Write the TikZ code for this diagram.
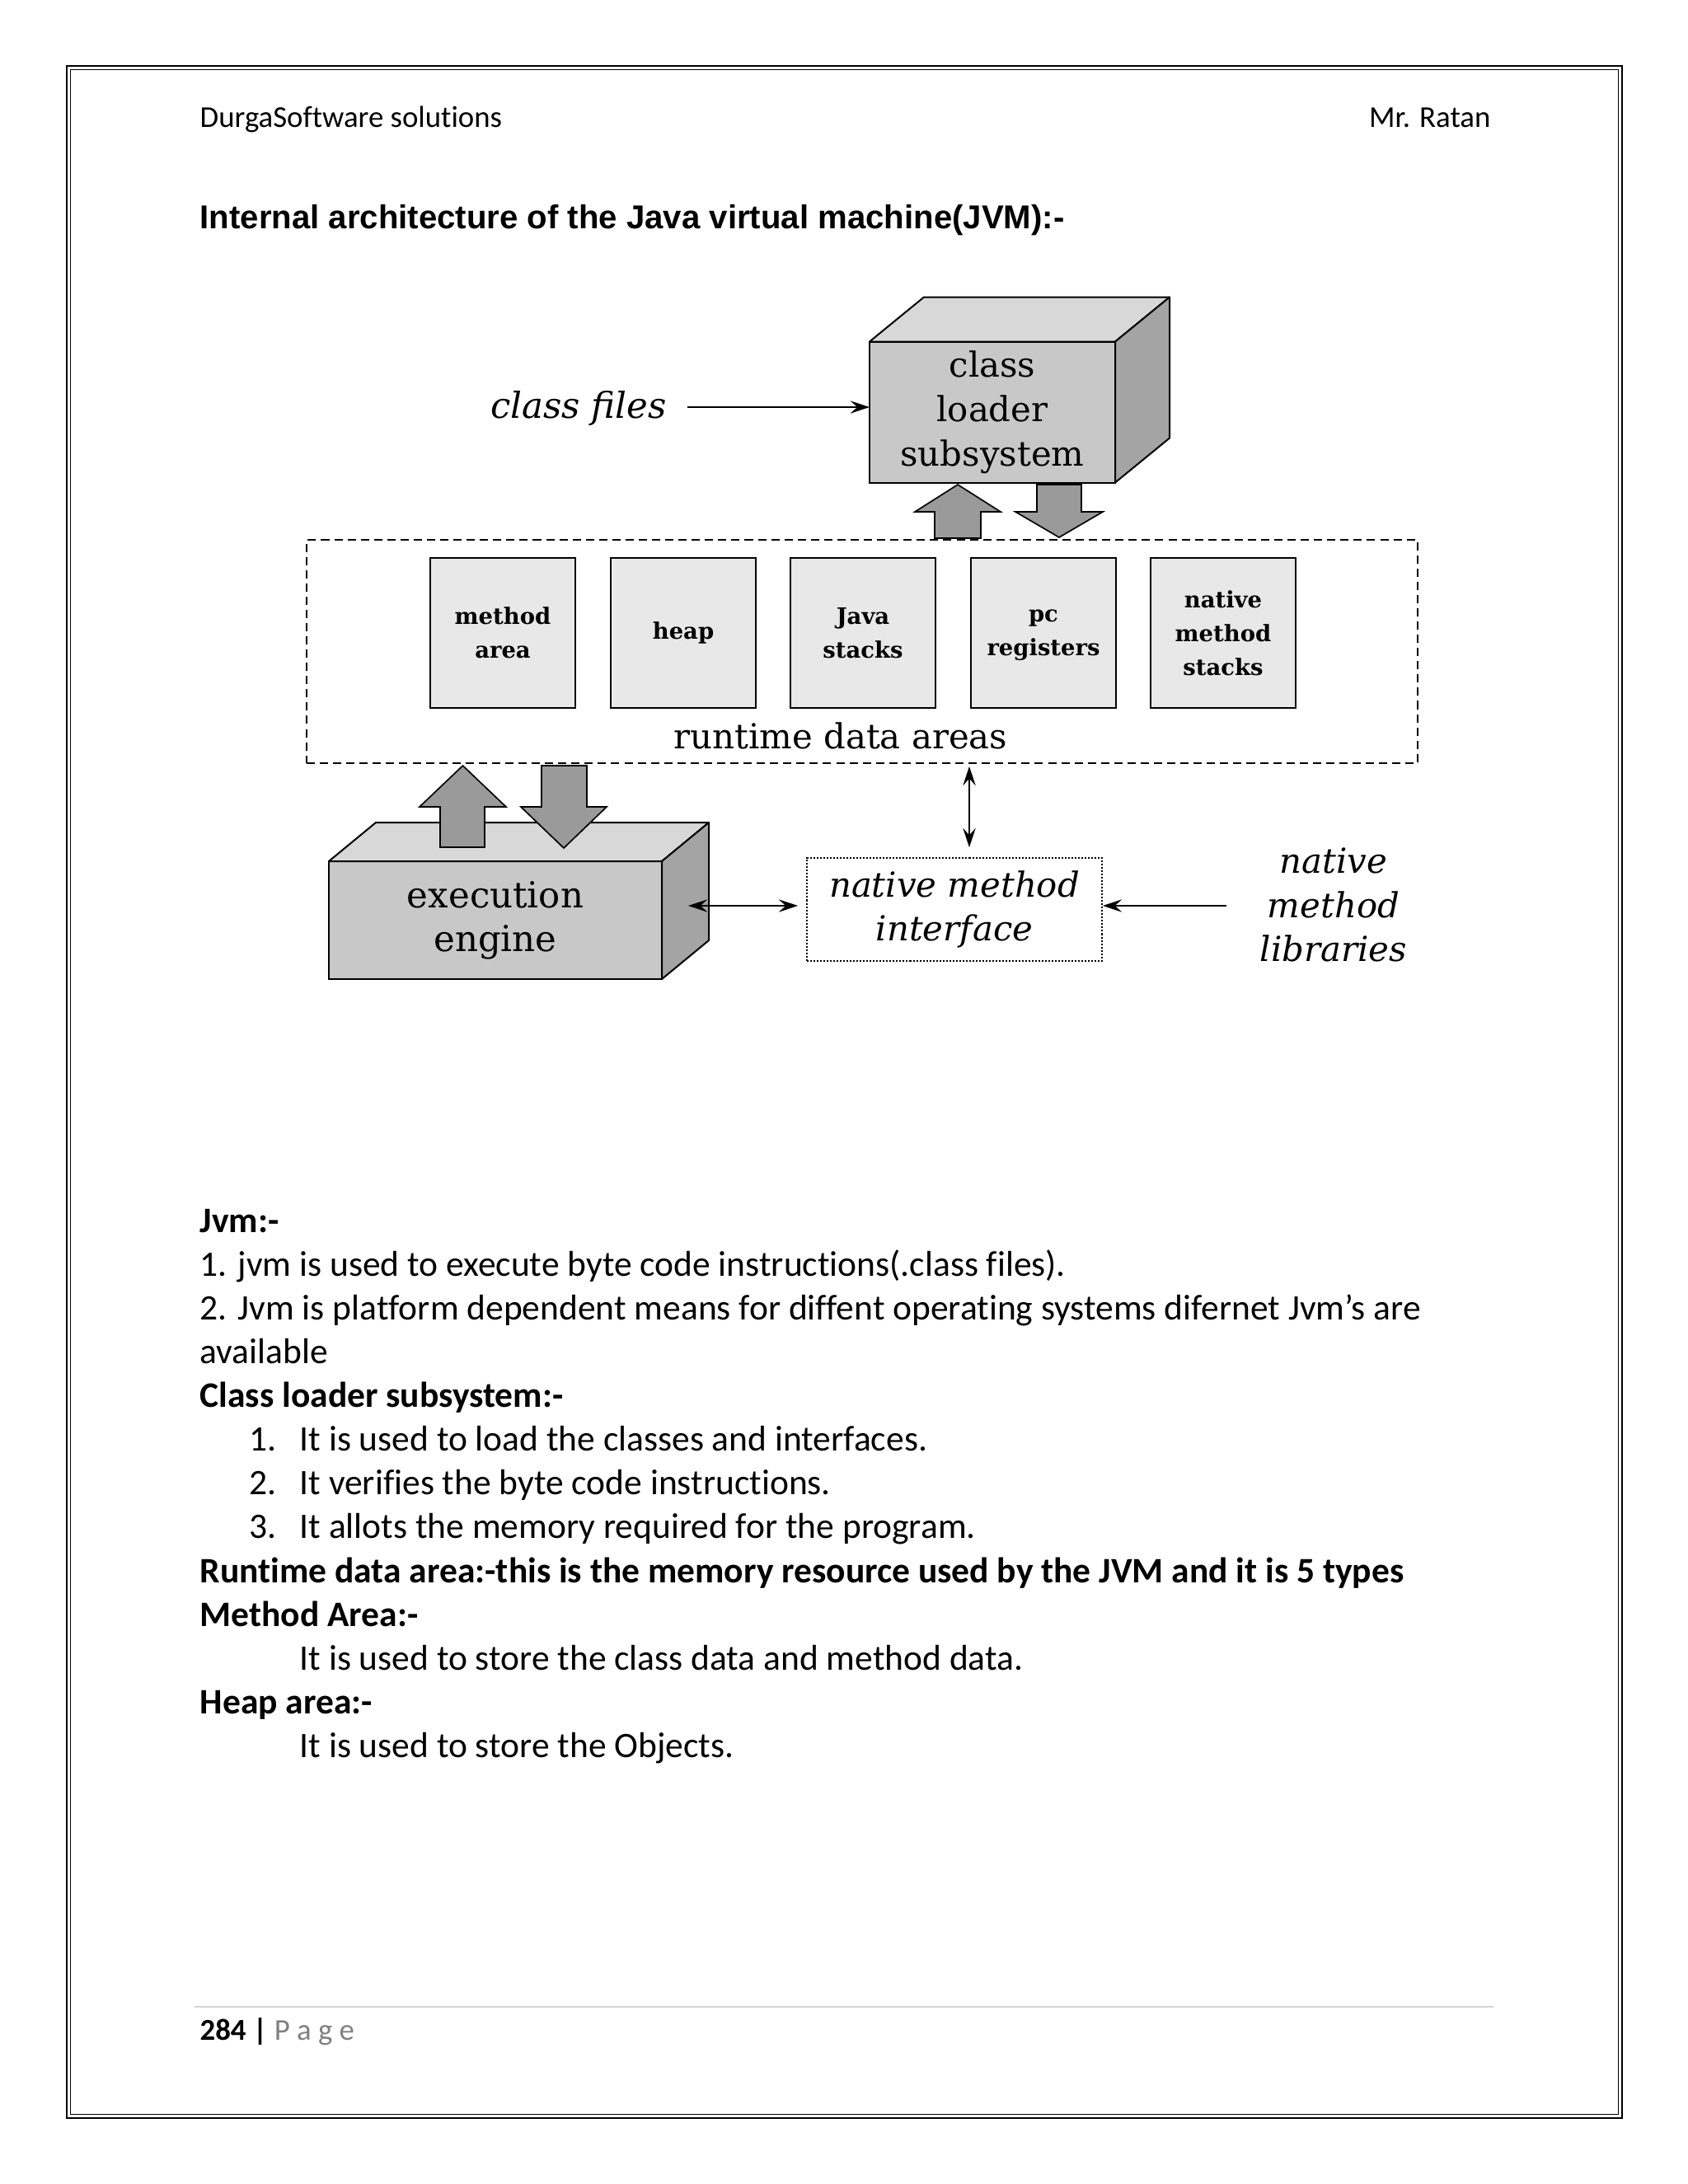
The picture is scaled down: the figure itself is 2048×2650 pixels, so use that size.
\documentclass[tikz,border=0pt]{standalone}
\usepackage{fontspec}
\usetikzlibrary{arrows.meta,calc}
\newfontfamily\calibri[Ligatures=NoCommon]{Carlito}
\newfontfamily\arialf{Liberation Sans}
\newfontfamily\schoolf{DejaVu Serif}
\definecolor{facefront}{HTML}{C8C8C8}
\definecolor{facetop}{HTML}{D8D8D8}
\definecolor{faceside}{HTML}{A4A4A4}
\definecolor{blockgray}{HTML}{9A9A9A}
\definecolor{areafill}{HTML}{E8E8E8}
\definecolor{pagegray}{HTML}{808080}
\definecolor{footline}{HTML}{D4D4D4}
\def\U{0.29883pt}
\begin{document}
\begin{tikzpicture}[x=0.29883pt,y=-0.29883pt,
  tip/.tip={Stealth[length=7pt,width=4.6pt,inset=2.6pt]},
  arr/.style={line width=0.5pt,-tip},
  dblarr/.style={line width=0.5pt,tip-tip},
  front/.style={draw,line width=0.6pt,fill=facefront,inner sep=0pt,outer sep=0pt,align=center,
    font=\schoolf\fontsize{12.5}{16.1}\selectfont},
  topface/.style={draw,line width=0.6pt,fill=facetop,line join=round},
  sideface/.style={draw,line width=0.6pt,fill=faceside,line join=round},
  block/.style={draw,line width=0.5pt,fill=blockgray,line join=miter},
  area/.style={draw,line width=0.6pt,fill=areafill,minimum width=176*\U,minimum height=182*\U,
    inner sep=0pt,align=center,font=\schoolf\bfseries\fontsize{8.2}{12.3}\selectfont},
  serif/.style={font=\schoolf\fontsize{12.5}{16}\selectfont,align=center,inner sep=0pt},
  serifit/.style={font=\schoolf\itshape\fontsize{12.5}{16}\selectfont,align=center,inner sep=0pt},
  body/.style={anchor=base west,inner sep=0pt,font=\calibri\fontsize{13}{15.8}\selectfont},
  bodyb/.style={body,font=\calibri\bfseries\fontsize{13}{15.8}\selectfont},
  hdr/.style={inner sep=0pt,font=\calibri\fontsize{11}{13}\selectfont},
]
\useasboundingbox (0,0) rectangle (2048,2650);
\fill[white] (0,0) rectangle (2048,2650);

% page frame
\draw[line width=0.6pt] (81,80) rectangle (1968,2570);
\draw[line width=0.4pt] (85.5,84.5) rectangle (1963.5,2565.5);

% header
\node[hdr,anchor=base west] (hl) at (242,154) {DurgaSoftware solutions};
\node[hdr,anchor=base east] (hr) at (1809,154) {Mr. Ratan};
\node[anchor=base west,inner sep=0pt,font=\arialf\bfseries\fontsize{12}{14}\selectfont] (title) at (242,277)
  {Internal architecture of the Java virtual machine(JVM):-};

% runtime data areas
\node[draw,line width=0.5pt,dash pattern=on 3pt off 1.8pt,minimum width=1348*\U,minimum height=271*\U,inner sep=0pt] (rda) at (1046,790.5) {};
\node[serif] (rdal) at (1020,893) {runtime data areas};
\node[area] (ma) at (610,768) {method\\area};
\node[area] (hp) at (829,768) {heap};
\node[area] (js) at (1047,768) {Java\\stacks};
\node[area] (pc) at (1266,768) {\vphantom{h}pc\\registers};
\node[area] (nms) at (1484,768) {native\\method\\stacks};

% class loader cube
\node[front,minimum width=298*\U,minimum height=171*\U] (cl) at (1204,500) {class\\loader\\subsystem};
\draw[topface] (cl.north west) -- ++(66,-54) -- ++(298,0) -- (cl.north east) -- cycle;
\draw[sideface] (cl.north east) -- ++(66,-54) -- ++(0,171) -- (cl.south east) -- cycle;

% execution engine cube
\node[front,minimum width=404*\U,minimum height=143*\U,font=\schoolf\fontsize{13}{15.9}\selectfont] (ee) at (601,1116.5) {execution\\engine};
\draw[topface] (ee.north west) -- ++(57,-47) -- ++(404,0) -- (ee.north east) -- cycle;
\draw[sideface] (ee.north east) -- ++(57,-47) -- ++(0,143) -- (ee.south east) -- cycle;

% block arrows between class loader and runtime data areas
\draw[block] (1134,653) -- (1134,621) -- (1110,621) -- (1162,588) -- (1214,621) -- (1190,621) -- (1190,653) -- cycle;
\draw[block] (1258,588) -- (1258,621) -- (1232,621) -- (1285,652) -- (1338,621) -- (1312,621) -- (1312,588) -- cycle;
% block arrows between runtime data areas and execution engine
\draw[block] (534,1028) -- (534,979) -- (509,979) -- (561.5,929) -- (614,979) -- (588,979) -- (588,1028) -- cycle;
\draw[block] (657,929) -- (657,979) -- (632,979) -- (684,1029) -- (736,979) -- (712,979) -- (712,929) -- cycle;

% native method interface
\node[draw,line width=0.5pt,dash pattern=on 0.6pt off 0.6pt,minimum width=358*\U,minimum height=125*\U,serifit] (nmi) at (1158,1103.5) {native method\\interface};
\node[serifit] (lib) at (1618,1098) {native\\method\\libraries};
\node[serifit,font=\schoolf\itshape\fontsize{13}{16}\selectfont] (cf) at (702,495) {class files};

% connectors
\coordinate (cfend) at (834,494);
\draw[arr] (cfend) -- (cfend -| cl.west);
\coordinate (vx) at (1176,0);
\draw[dblarr] ($(vx |- rda.south)+(0,3)$) -- ($(vx |- nmi.north)+(0,-12)$);
\coordinate (eex) at (835,1099);
\draw[dblarr] (eex) -- ($(eex -| nmi.west)+(-10,0)$);
\coordinate (libend) at (1488,1099);
\draw[arr] (libend) -- (libend -| nmi.east);

% body text
\node[bodyb] (b1) at (242,1495) {Jvm:-};
\node[body] (b2) at (242,1548) {1. jvm is used to execute byte code instructions(.class files).};
\node[body] (b3) at (242,1601) {2. Jvm is platform dependent means for diffent operating systems difernet Jvm’s are};
\node[body] (b4) at (242,1654) {available};
\node[bodyb] (b5) at (242,1707) {Class loader subsystem:-};
\node[body] (n1) at (302,1760) {1.};
\node[body] (b6) at (363,1760) {It is used to load the classes and interfaces.};
\node[body] (n2) at (302,1813) {2.};
\node[body] (b7) at (363,1813) {It verifies the byte code instructions.};
\node[body] (n3) at (302,1866) {3.};
\node[body] (b8) at (363,1866) {It allots the memory required for the program.};
\node[bodyb] (b9) at (242,1920) {Runtime data area:-this is the memory resource used by the JVM and it is 5 types};
\node[bodyb] (b10) at (242,1973) {Method Area:-};
\node[body] (b11) at (363,2026) {It is used to store the class data and method data.};
\node[bodyb] (b12) at (242,2079) {Heap area:-};
\node[body] (b13) at (363,2132) {It is used to store the Objects.};

% footer
\draw[line width=0.6pt,footline] (236,2435) -- (1812,2435);
\node[hdr,anchor=base west] (ft) at (242,2475) {\bfseries 284 |\mdseries\ \textcolor{pagegray}{P a g e}};
\end{tikzpicture}
\end{document}
